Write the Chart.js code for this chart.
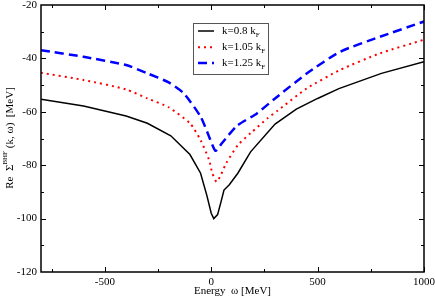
<!DOCTYPE html>
<html><head><meta charset="utf-8">
<script src="https://cdn.jsdelivr.net/npm/chart.js@4"></script>
<style>html,body{margin:0;padding:0;background:#fff}#wrap{width:435px;height:298px}</style>
</head><body><div id="wrap"><canvas id="c" width="435" height="298"></canvas></div>
<script>
const seriesLabels = ["k=0.8 k", "k=1.05 k", "k=1.25 k"];
const energy08 = [-800,-600,-400,-300,-190,-100,-50,-20,0,12,30,45,60,85,125,185,300,400,500,600,800,1000];
const self08   = [-55.3,-57.8,-61.6,-64.3,-69,-76,-83,-91.5,-98,-100,-98.5,-94,-89.3,-87.3,-83,-75,-64.6,-59,-55,-51.3,-45.6,-41.2];
const energy105 = [-800,-600,-400,-300,-200,-100,-50,-10,5,25,45,70,125,185,265,310,450,606,793,1000];
const self105   = [-45.4,-48.1,-51.6,-55,-58.3,-64.3,-70.6,-78,-83,-86.2,-83.7,-79.3,-72.5,-68,-62.4,-59.7,-51.2,-44.3,-38.1,-33];
const energy125 = [-800,-600,-400,-300,-200,-130,-50,-10,20,50,120,215,300,450,606,793,1000];
const self125   = [-36.9,-39.4,-42.5,-45.6,-49,-53,-61.8,-69.3,-74.6,-71.8,-65.3,-60.6,-55,-45.6,-37.5,-31.9,-26.2];
const xTicks = [-500, 0, 500, 1000];
const yTicks = [-120, -100, -80, -60, -40, -20];

function pts(xs, ys){ return xs.map((x,i)=>({x:x, y:ys[i]})); }
const FONT = "'Liberation Serif', 'DejaVu Serif', serif";

const framePlugin = {
  id: 'frame',
  afterDraw(chart){
    const {ctx, chartArea:a, scales:{x, y}} = chart;
    ctx.save();
    ctx.strokeStyle = '#000'; ctx.lineWidth = 1.5;
    ctx.strokeRect(a.left, a.top, a.right-a.left, a.bottom-a.top);
    ctx.lineWidth = 1;
    for (let v=-750; v<=1000; v+=250){
      const px = Math.round(x.getPixelForValue(v))+0.5;
      const len = (v % 500 === 0) ? 5 : 3;
      ctx.beginPath();
      ctx.moveTo(px, a.bottom); ctx.lineTo(px, a.bottom-len);
      ctx.moveTo(px, a.top); ctx.lineTo(px, a.top+len);
      ctx.stroke();
    }
    for (let v=-110; v<=-30; v+=10){
      const py = Math.round(y.getPixelForValue(v))+0.5;
      const len = (v % 20 === 0) ? 5 : 3;
      ctx.beginPath();
      ctx.moveTo(a.left, py); ctx.lineTo(a.left+len, py);
      ctx.moveTo(a.right, py); ctx.lineTo(a.right-len, py);
      ctx.stroke();
    }
    // legend
    const bx = 193, by = 23, bw = 75, bh = 51;
    ctx.fillStyle = '#fff'; ctx.fillRect(bx, by, bw, bh);
    ctx.strokeStyle = '#555'; ctx.lineWidth = 1;
    ctx.strokeRect(bx+0.5, by+0.5, bw, bh);
    const rows = [31, 47.3, 63];
    chart.data.datasets.forEach((ds, i) => {
      const ry = rows[i];
      ctx.strokeStyle = ds.borderColor; ctx.lineWidth = ds.borderWidth;
      ctx.setLineDash(ds.borderDash || []);
      ctx.beginPath(); ctx.moveTo(198, ry); ctx.lineTo(214, ry); ctx.stroke();
      ctx.setLineDash([]);
      ctx.fillStyle = '#000'; ctx.font = '11px ' + FONT;
      ctx.textBaseline = 'middle'; ctx.textAlign = 'left';
      ctx.fillText(seriesLabels[i], 222, ry);
      const w = ctx.measureText(seriesLabels[i]).width;
      ctx.font = '7px ' + FONT;
      ctx.fillText('F', 222 + w, ry + 4);
    });
    // axis titles
    ctx.fillStyle = '#000'; ctx.textBaseline = 'middle';
    ctx.font = '11px ' + FONT; ctx.textAlign = 'center';
    ctx.fillText('Energy  \u03c9 [MeV]', (a.left + a.right)/2, 291);
    ctx.save();
    ctx.translate(10, 138); ctx.rotate(-Math.PI/2);
    const p1 = 'Re  \u03a3', sup = 'BHF', p2 = ' (k, \u03c9)  [MeV]';
    ctx.font = '11px ' + FONT; const w1 = ctx.measureText(p1).width, w3 = ctx.measureText(p2).width;
    ctx.font = '7px ' + FONT; const w2 = ctx.measureText(sup).width;
    let sx = -(w1+w2+w3)/2;
    ctx.textAlign = 'left';
    ctx.font = '11px ' + FONT; ctx.fillText(p1, sx, 0); sx += w1;
    ctx.font = '7px ' + FONT; ctx.fillText(sup, sx, -5); sx += w2;
    ctx.font = '11px ' + FONT; ctx.fillText(p2, sx, 0);
    ctx.restore();
    ctx.restore();
  }
};

new Chart(document.getElementById('c'), {
  type: 'line',
  data: { datasets: [
    { data: pts(energy08, self08), borderColor: '#000000', borderWidth: 1.5, pointRadius: 0, fill: false, tension: 0 },
    { data: pts(energy105, self105), borderColor: '#ff0000', borderWidth: 2, borderDash: [2, 4], pointRadius: 0, fill: false, tension: 0.2 },
    { data: pts(energy125, self125), borderColor: '#0000ff', borderWidth: 2.5, borderDash: [9, 5], pointRadius: 0, fill: false, tension: 0.2 }
  ]},
  options: {
    responsive: false, animation: false, devicePixelRatio: 1,
    layout: { padding: { left: 0, right: 11, top: 5, bottom: 0 } },
    plugins: { legend: { display: false }, tooltip: { enabled: false } },
    scales: {
      x: { type: 'linear', min: -800, max: 1000,
        afterBuildTicks(s){ s.ticks = xTicks.map(v=>({value:v})); },
        afterFit(s){ s.height = 26; s.paddingLeft = 0; s.paddingRight = 0; },
        grid: { display: false, drawTicks: false }, border: { display: false },
        ticks: { color: '#000', font: { family: FONT, size: 11 }, padding: 4, maxRotation: 0,
                 callback: v => String(v) } },
      y: { type: 'linear', min: -120, max: -20,
        afterBuildTicks(s){ s.ticks = yTicks.map(v=>({value:v})); },
        afterFit(s){ s.width = 41; s.paddingTop = 0; s.paddingBottom = 0; },
        grid: { display: false, drawTicks: false }, border: { display: false },
        ticks: { color: '#000', font: { family: FONT, size: 11 }, padding: 4,
                 callback: v => String(v) } }
    }
  },
  plugins: [framePlugin]
});
</script></body></html>
